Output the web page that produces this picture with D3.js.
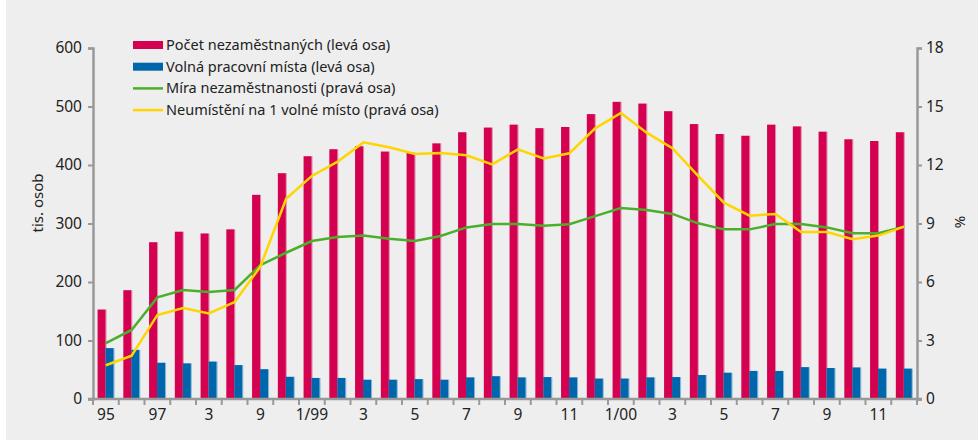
<!DOCTYPE html>
<meta charset="utf-8">
<style>
body { margin: 0; background: #fff; }
text { font-family: "Noto Sans", sans-serif; fill: #222; }
</style>
<body>
<script src="https://d3js.org/d3.v7.min.js"></script>
<script>
// categories (only every second one is labelled on the axis)
var categories = ["95","96","97","1/98","3","6","9","12",
  "1/99","2","3","4","5","6","7","8","9","10","11","12",
  "1/00","2","3","4","5","6","7","8","9","10","11","12"];
// tis. osob (left axis)
var unemployed = [153,186,268,286,283,290,349,386,415,427,432,423,421,437,456,464,
  469,463,465,487,508,505,492,470,453,450,469,466,457,444,441,456];
var vacancies = [87,84,62,61,64,58,51,38,36,36,33,33,34,33,37,39,
  37,37.5,37,35,35,37,37.5,41,45,48,48,54.5,53,54,52,52];
// % (right axis)
var unempRate = [2.86,3.54,5.21,5.59,5.49,5.59,6.87,7.50,8.10,8.31,8.39,8.22,8.10,8.36,8.80,8.97,
  8.97,8.89,8.96,9.38,9.79,9.69,9.49,9.01,8.70,8.70,8.97,8.97,8.80,8.50,8.50,8.84];
var perVacancy = [1.73,2.22,4.31,4.67,4.39,4.97,6.79,10.27,11.44,12.17,13.16,12.91,12.56,12.62,12.50,12.03,
  12.80,12.34,12.60,13.88,14.67,13.66,12.86,11.44,10.07,9.40,9.49,8.56,8.56,8.19,8.38,8.84];
var leftTicks = [0,100,200,300,400,500,600];
var rightTicks = [0,3,6,9,12,15,18];
var legendItems = [
  {label: "Počet nezaměstnaných (levá osa)", color: "#d40050", type: "bar"},
  {label: "Volná pracovní místa (levá osa)", color: "#0066ab", type: "bar"},
  {label: "Míra nezaměstnanosti (pravá osa)", color: "#4caf2c", type: "line"},
  {label: "Neumístění na 1 volné místo (pravá osa)", color: "#ffd500", type: "line"}
];

var width = 978, height = 440;
var mLeft = 93, mRight = 917, mTop = 48, mBottom = 399;

var svg = d3.select("body").append("svg")
    .attr("width", width)
    .attr("height", height);

svg.append("rect")
    .attr("x", 6).attr("y", 0)
    .attr("width", width - 6).attr("height", height)
    .attr("fill", "#eeeeee");

var x = d3.scaleBand().domain(d3.range(categories.length)).range([mLeft, mRight]);
var inner = d3.scaleBand().domain([0, 1]).range([0, 16]);
var yL = d3.scaleLinear().domain([0, 600]).range([mBottom, mTop]);
var yR = d3.scaleLinear().domain([0, 18]).range([mBottom, mTop]);
var off = (x.bandwidth() - 16) / 2;

// bars, each with a thin light edge on its right side
function bars(data, k, fill, edge) {
  var g = svg.append("g").selectAll("g")
      .data(data)
    .enter().append("g");
  g.append("rect")
      .attr("x", function(d, i) { return x(i) + off + inner(k) + inner.bandwidth() - 0.3; })
      .attr("y", function(d) { return yL(d); })
      .attr("width", 1)
      .attr("height", function(d) { return mBottom - yL(d); })
      .attr("fill", edge);
  g.append("rect")
      .attr("x", function(d, i) { return x(i) + off + inner(k) - 0.3; })
      .attr("y", function(d) { return yL(d); })
      .attr("width", inner.bandwidth())
      .attr("height", function(d) { return mBottom - yL(d); })
      .attr("fill", fill);
}
bars(unemployed, 0, "#d40050", "#e58aae");
bars(vacancies, 1, "#0066ab", "#8ab8da");

// lines
var line = d3.line()
    .x(function(d, i) { return x(i) + x.bandwidth() / 2; })
    .y(function(d) { return yR(d); });

svg.append("path").datum(unempRate)
    .attr("d", line).attr("fill", "none")
    .attr("stroke", "#4caf2c").attr("stroke-width", 2.5);
svg.append("path").datum(perVacancy)
    .attr("d", line).attr("fill", "none")
    .attr("stroke", "#ffd500").attr("stroke-width", 2.5);

// axes
var axisColor = "#999";
var gL = svg.append("g").attr("transform", "translate(" + mLeft + ",0)")
    .call(d3.axisLeft(yL).tickValues(leftTicks).tickSize(5).tickPadding(6));
var gR = svg.append("g").attr("transform", "translate(" + mRight + ",0)")
    .call(d3.axisRight(yR).tickValues(rightTicks).tickSize(5).tickPadding(4));
var gX = svg.append("g").attr("transform", "translate(0," + mBottom + ")")
    .call(d3.axisBottom(x).tickSize(0).tickPadding(10)
      .tickFormat(function(i) { return i % 2 == 0 ? categories[i] : ""; }));

// ticks on band boundaries
gX.selectAll(".bnd")
    .data(d3.range(categories.length + 1))
  .enter().append("line")
    .attr("x1", function(i) { return mLeft + i * x.step(); })
    .attr("x2", function(i) { return mLeft + i * x.step(); })
    .attr("y1", 0).attr("y2", 6)
    .attr("stroke", axisColor).attr("stroke-width", 2);

[gL, gR, gX].forEach(function(g) {
  g.select(".domain").attr("stroke", axisColor).attr("stroke-width", 2.5);
  g.selectAll(".tick line").attr("stroke", axisColor).attr("stroke-width", 2);
  g.selectAll("text").style("font-size", "15.5px").attr("fill", "#222");
});
gX.select(".domain").attr("d", "M" + (mLeft - 5) + ",0H" + (mRight + 5));

svg.append("text")
    .attr("transform", "translate(43,203) rotate(-90)")
    .attr("text-anchor", "middle")
    .style("font-size", "15px")
    .text("tis. osob");
svg.append("text")
    .attr("transform", "translate(965,222) rotate(-90)")
    .attr("text-anchor", "middle")
    .style("font-size", "15px")
    .text("%");

// legend
var lg = svg.append("g").selectAll("g")
    .data(legendItems)
  .enter().append("g")
    .attr("transform", function(d, i) { return "translate(133," + (45 + i * 21.7) + ")"; });
lg.append("rect")
    .attr("x", 0)
    .attr("y", function(d) { return d.type == "bar" ? -4 : -1.25; })
    .attr("width", 30)
    .attr("height", function(d) { return d.type == "bar" ? 8 : 2.5; })
    .attr("fill", function(d) { return d.color; });
lg.append("text")
    .attr("x", 33)
    .attr("dy", "0.35em")
    .style("font-size", "14.5px")
    .text(function(d) { return d.label; });
</script>
</body>
